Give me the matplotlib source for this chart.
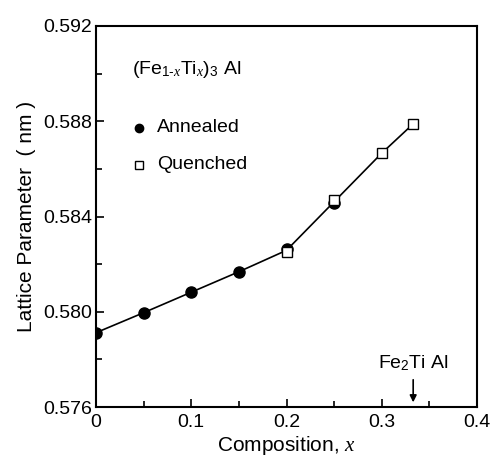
import matplotlib as m
m.use('Agg')
import matplotlib.pyplot as plt

# composition x and lattice parameter (nm)
x_annealed = [0.0, 0.05, 0.10, 0.15, 0.20, 0.25]
a_annealed = [0.57912, 0.57996, 0.58082, 0.58168, 0.58264, 0.58457]
x_quenched = [0.20, 0.25, 0.30, 0.333]
a_quenched = [0.58251, 0.58468, 0.58666, 0.58789]
x_line = [0.0, 0.05, 0.10, 0.15, 0.20, 0.25, 0.30, 0.333]
a_line = [0.57912, 0.57996, 0.58082, 0.58168, 0.58258, 0.58462, 0.58666, 0.58789]

xticks = [0, 0.1, 0.2, 0.3, 0.4]
xticklabels = ['0', '0.1', '0.2', '0.3', '0.4']
yticks = [0.576, 0.580, 0.584, 0.588, 0.592]
yticklabels = ['0.576', '0.580', '0.584', '0.588', '0.592']

plt.rcParams['font.family'] = ['Liberation Sans', 'DejaVu Sans']
plt.rcParams['mathtext.fontset'] = 'custom'
plt.rcParams['mathtext.rm'] = 'Liberation Sans'
plt.rcParams['mathtext.it'] = 'Liberation Serif:italic'

fig = plt.figure(figsize=(4.9, 4.58), dpi=100)
ax = fig.add_axes([96/490, 1-407/458, 381/490, 381/458])

ax.plot(x_line, a_line, color='black', lw=1.2, zorder=1)
ax.plot(x_annealed, a_annealed, 'o', color='black', ms=8, zorder=2)
ax.plot(x_quenched, a_quenched, 's', mfc='white', mec='black', mew=1.0, ms=7.5, zorder=3)

ax.set_xlim(0, 0.4)
ax.set_ylim(0.576, 0.592)
ax.set_xticks(xticks)
ax.set_xticklabels(xticklabels)
ax.set_xticks([0.05, 0.15, 0.25, 0.35], minor=True)
ax.set_yticks(yticks)
ax.set_yticklabels(yticklabels)
ax.set_yticks([0.578, 0.582, 0.586, 0.590], minor=True)
ax.tick_params(which='both', direction='in', top=False, right=False, labelsize=14)
ax.tick_params(axis='x', pad=5)
ax.tick_params(axis='y', pad=3)
ax.tick_params(which='major', length=6, width=1.2)
ax.tick_params(which='minor', length=4, width=1.2)
for s in ax.spines.values():
    s.set_linewidth(1.5)

ax.set_xlabel('Composition, $\\mathit{x}$', fontsize=15, labelpad=2)
ax.set_ylabel('Lattice Parameter  ( nm )', fontsize=15, labelpad=5)

ax.text(0.038, 0.59016, '(Fe$_{\\mathrm{1\\text{-}}\\mathit{x}}$Ti$_{\\mathit{x}}$)$_{\\mathrm{3}}$ Al',
        fontsize=14, va='center', ha='left')
ax.plot([0.045], [0.58772], 'o', color='black', ms=6)
ax.text(0.064, 0.58772, 'Annealed', fontsize=14, va='center')
ax.plot([0.045], [0.58617], 's', mfc='white', mec='black', ms=6)
ax.text(0.064, 0.58617, 'Quenched', fontsize=14, va='center')

ax.annotate('', xy=(0.333, 0.57608), xytext=(0.333, 0.57726),
            arrowprops=dict(arrowstyle='-|>', color='black', lw=1.2, mutation_scale=10))
ax.text(0.333, 0.57785, 'Fe$_{\\mathrm{2}}$Ti Al', fontsize=14, ha='center', va='center')

plt.savefig('out.png', dpi=100)
